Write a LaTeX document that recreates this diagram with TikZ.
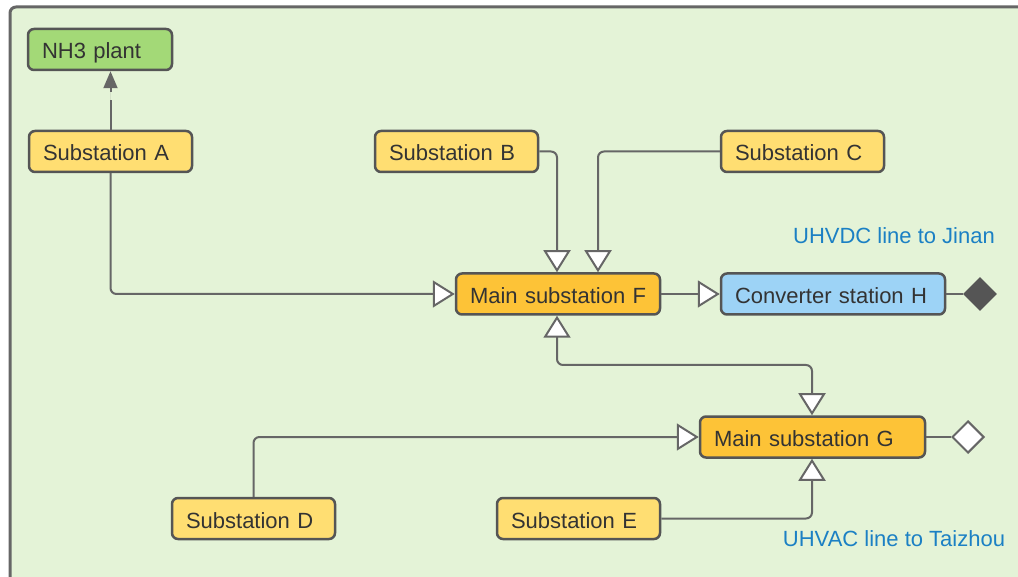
\documentclass[tikz,border=0pt]{standalone}
\usepackage{fontspec}
\setmainfont{Liberation Sans}
\usetikzlibrary{arrows.meta,shapes.geometric}
\definecolor{bgc}{HTML}{E4F3D7}
\definecolor{framec}{HTML}{666666}
\definecolor{boxc}{HTML}{555555}
\definecolor{linec}{HTML}{666666}
\definecolor{txt}{HTML}{333333}
\definecolor{yel}{HTML}{FFDE72}
\definecolor{org}{HTML}{FDC337}
\definecolor{grn}{HTML}{A3D977}
\definecolor{blu}{HTML}{9DD3F6}
\definecolor{lbl}{HTML}{1B80C4}
\tikzset{
  box/.style={draw=boxc, line width=2.5pt, rounded corners=6pt, minimum height=41pt,
    inner xsep=14pt, inner ysep=0pt, text width=#1, align=left,
    text height=19pt, text depth=0pt,
    font=\fontsize{22}{26}\selectfont, text=txt},
  conn/.style={draw=linec, line width=2pt, rounded corners=6pt},
  otri/.tip={Triangle[length=22pt, width=27pt, fill=white]},
  ftri/.tip={Triangle[length=17pt, width=14pt]},
  lab/.style={font=\fontsize{22}{26}\selectfont, text=lbl, inner sep=0pt},
  dia/.style={shape=diamond, aspect=1, inner sep=0pt, minimum width=#1, minimum height=#1}
}
\begin{document}
\begin{tikzpicture}[x=1pt,y=-1pt]
\useasboundingbox (0,0) rectangle (1018,577);
\clip (0,0) rectangle (1018,577);
\fill[white] (0,0) rectangle (1018,577);
\draw[line width=3pt, draw=framec, fill=bgc, rounded corners=6pt] (10,7) rectangle (1040,600);

\node[box=116pt, fill=grn] (NH) at (100,49.5) {\mbox{NH3 plant}};
\node[box=135pt, fill=yel] (A) at (110.5,151.5) {\mbox{Substation A}};
\node[box=135pt, fill=yel] (B) at (456.5,151.5) {\mbox{Substation B}};
\node[box=135pt, fill=yel] (C) at (802.5,151.5) {\mbox{Substation C}};
\node[box=176pt, fill=org] (F) at (558,294) {\mbox{Main substation F}};
\node[box=196pt, fill=blu] (H) at (833,294) {\mbox{Converter station H}};
\node[box=197pt, fill=org] (G) at (812.5,437) {\mbox{Main substation G}};
\node[box=135pt, fill=yel] (D) at (253.5,518.5) {\mbox{Substation D}};
\node[box=135pt, fill=yel] (E) at (578.5,518.5) {\mbox{Substation E}};

\node[dia=34pt, fill=boxc] (dH) at (980,294) {};
\node[dia=32pt, fill=white, draw=linec, line width=2pt] (dG) at (968,437) {};

\node[lab] (l1) at (894,236) {UHVDC line to Jinan};
\node[lab] (l2) at (894,539) {UHVAC line to Taizhou};

\coordinate (Bx) at (557,0);
\coordinate (Cx) at (598,0);
\coordinate (Gx) at (812,0);

\draw[conn, dash pattern=on 30pt off 8pt, -{ftri}, fill=linec] (A.north) -- (A.north |- NH.south);
\draw[conn, -{otri}] (A.south) |- (F.west);
\draw[conn, -{otri}] (B.east) -| (Bx |- F.north);
\draw[conn, -{otri}] (C.west) -| (Cx |- F.north);
\draw[conn, -{otri}] (F.east) -- (H.west);
\draw[conn] (H.east) -- (dH.west);
\draw[conn, {otri}-{otri}] (Bx |- F.south) -- (557,365) -- (812,365) -- (Gx |- G.north);
\draw[conn, -{otri}] (D.north) |- (G.west);
\draw[conn, -{otri}] (E.east) -| (Gx |- G.south);
\draw[conn] (G.east) -- (dG.west);
\end{tikzpicture}
\end{document}
